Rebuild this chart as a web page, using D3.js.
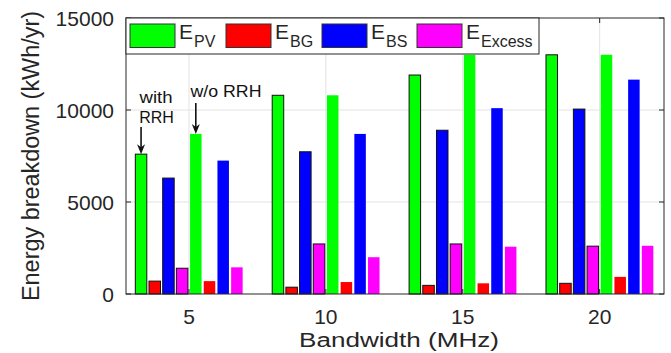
<!DOCTYPE html>
<html>
<head>
<meta charset="utf-8">
<script src="https://cdn.jsdelivr.net/npm/d3@7"></script>
<style>
  html, body { margin: 0; padding: 0; background: #fff; }
  svg { display: block; font-family: "Liberation Sans", Arial, sans-serif; }
</style>
</head>
<body>
<div id="chart"></div>
<script>
// Energy breakdown vs bandwidth, with / without RRH
const bandwidths = [5, 10, 15, 20];
const withPV = [7600, 10800, 11900, 13000];
const withBG = [700, 370, 470, 580];
const withBS = [6300, 7730, 8900, 10050];
const withEx = [1400, 2720, 2720, 2600];
const woPV   = [8700, 10800, 13000, 13000];
const woBG   = [700, 650, 580, 930];
const woBS   = [7250, 8700, 10100, 11650];
const woEx   = [1450, 2000, 2570, 2620];
const yTicks = [0, 5000, 10000, 15000];
const legendItems = [
  { sub: "PV", color: "#00ff00" },
  { sub: "BG", color: "#ff0000" },
  { sub: "BS", color: "#0000ff" },
  { sub: "Excess", color: "#ff00ff" }
];

const series = [
  { vals: withPV, color: "#00ff00", outline: true },
  { vals: withBG, color: "#ff0000", outline: true },
  { vals: withBS, color: "#0000ff", outline: true },
  { vals: withEx, color: "#ff00ff", outline: true },
  { vals: woPV,   color: "#00ff00", outline: false },
  { vals: woBG,   color: "#ff0000", outline: false },
  { vals: woBS,   color: "#0000ff", outline: false },
  { vals: woEx,   color: "#ff00ff", outline: false }
];

const W = 671, H = 353;
const L = 126, R = 664, T = 18, B = 294;
const axisCol = "#262626";

const svg = d3.select("#chart").append("svg").attr("width", W).attr("height", H);

const x = d3.scaleLinear().domain([2.7, 22.35]).range([L, R]);
const y = d3.scaleLinear().domain([0, 15000]).range([B, T]);
const step = 0.5, barW = 0.42;

// grid
svg.append("g").selectAll("line").data(yTicks.slice(1, -1)).join("line")
  .attr("x1", L).attr("x2", R).attr("y1", d => y(d)).attr("y2", d => y(d))
  .attr("stroke", "#e3e3e3").attr("stroke-width", 1);
svg.append("g").selectAll("line").data(bandwidths).join("line")
  .attr("x1", d => x(d)).attr("x2", d => x(d)).attr("y1", T).attr("y2", B)
  .attr("stroke", "#e3e3e3").attr("stroke-width", 1);

// bars
const cells = [];
series.forEach((s, i) => {
  s.vals.forEach((v, g) => cells.push({ bw: bandwidths[g], v, i, s }));
});
svg.append("g").selectAll("rect").data(cells).join("rect")
  .attr("x", d => x(d.bw + (d.i - 3.5) * step - barW / 2))
  .attr("width", d => x(barW) - x(0))
  .attr("y", d => y(d.v))
  .attr("height", d => y(0) - y(d.v))
  .attr("fill", d => d.s.color)
  .attr("stroke", d => d.s.outline ? "#111" : "none")
  .attr("stroke-width", 1);

// axes box and ticks
svg.append("rect").attr("x", L).attr("y", T).attr("width", R - L).attr("height", B - T)
  .attr("fill", "none").attr("stroke", axisCol).attr("stroke-width", 1);
const tk = svg.append("g").attr("stroke", axisCol).attr("stroke-width", 1);
yTicks.forEach(t => {
  tk.append("line").attr("x1", L).attr("x2", L + 5).attr("y1", y(t)).attr("y2", y(t));
  tk.append("line").attr("x1", R).attr("x2", R - 5).attr("y1", y(t)).attr("y2", y(t));
});
bandwidths.forEach(b => {
  tk.append("line").attr("x1", x(b)).attr("x2", x(b)).attr("y1", B).attr("y2", B - 5);
  tk.append("line").attr("x1", x(b)).attr("x2", x(b)).attr("y1", T).attr("y2", T + 5);
});

// tick labels
svg.append("g").selectAll("text").data(yTicks).join("text")
  .attr("x", L - 12).attr("y", d => y(d)).attr("dy", "0.36em")
  .attr("text-anchor", "end").attr("font-size", 21).attr("fill", axisCol)
  .text(d => d);
svg.append("g").selectAll("text").data(bandwidths).join("text")
  .attr("x", d => x(d)).attr("y", 324)
  .attr("text-anchor", "middle").attr("font-size", 21).attr("fill", axisCol)
  .text(d => d);

// axis labels
svg.append("text").attr("x", 399).attr("y", 347)
  .attr("text-anchor", "middle").attr("font-size", 20).attr("fill", axisCol)
  .attr("textLength", 200).attr("lengthAdjust", "spacingAndGlyphs")
  .text("Bandwidth (MHz)");
svg.append("text").attr("transform", "translate(38.5,156) rotate(-90)")
  .attr("text-anchor", "middle").attr("font-size", 23).attr("fill", axisCol)
  .attr("textLength", 290).attr("lengthAdjust", "spacingAndGlyphs")
  .text("Energy breakdown (kWh/yr)");

// legend
const lg = svg.append("g");
lg.append("rect").attr("x", L).attr("y", T).attr("width", 413).attr("height", 36)
  .attr("fill", "#fff").attr("stroke", axisCol).attr("stroke-width", 1);
const swX = [130, 226, 322, 417];
legendItems.forEach((it, i) => {
  lg.append("rect").attr("x", swX[i]).attr("y", 24).attr("width", 45).attr("height", 23.5)
    .attr("fill", it.color).attr("stroke", "#333").attr("stroke-width", 1);
  const t = lg.append("text").attr("x", swX[i] + 49).attr("y", 38.5)
    .attr("font-size", 21).attr("fill", axisCol);
  t.append("tspan").text("E");
  t.append("tspan").attr("dy", 8).attr("dx", 1).attr("font-size", 16).text(it.sub);
});

// annotations
const ann = svg.append("g").attr("fill", "#111").attr("font-size", 16);
ann.append("text").attr("x", 156).attr("y", 102.5).attr("text-anchor", "middle")
  .attr("textLength", 33).attr("lengthAdjust", "spacingAndGlyphs").text("with");
ann.append("text").attr("x", 156.5).attr("y", 122.5).attr("text-anchor", "middle").text("RRH");
ann.append("text").attr("x", 226).attr("y", 97).attr("text-anchor", "middle")
  .attr("textLength", 71).attr("lengthAdjust", "spacingAndGlyphs").text("w/o RRH");

function arrow(px, y0, y1) {
  ann.append("line").attr("x1", px).attr("x2", px).attr("y1", y0).attr("y2", y1 - 6)
    .attr("stroke", "#111").attr("stroke-width", 1.6);
  ann.append("path")
    .attr("d", `M${px - 4},${y1 - 10} L${px},${y1} L${px + 4},${y1 - 10} L${px},${y1 - 7} Z`)
    .attr("fill", "#111");
}
arrow(x(bandwidths[0] - 3.5 * step), 127, y(withPV[0]));
arrow(x(bandwidths[0] + 0.5 * step), 103, y(woPV[0]));
</script>
</body>
</html>
